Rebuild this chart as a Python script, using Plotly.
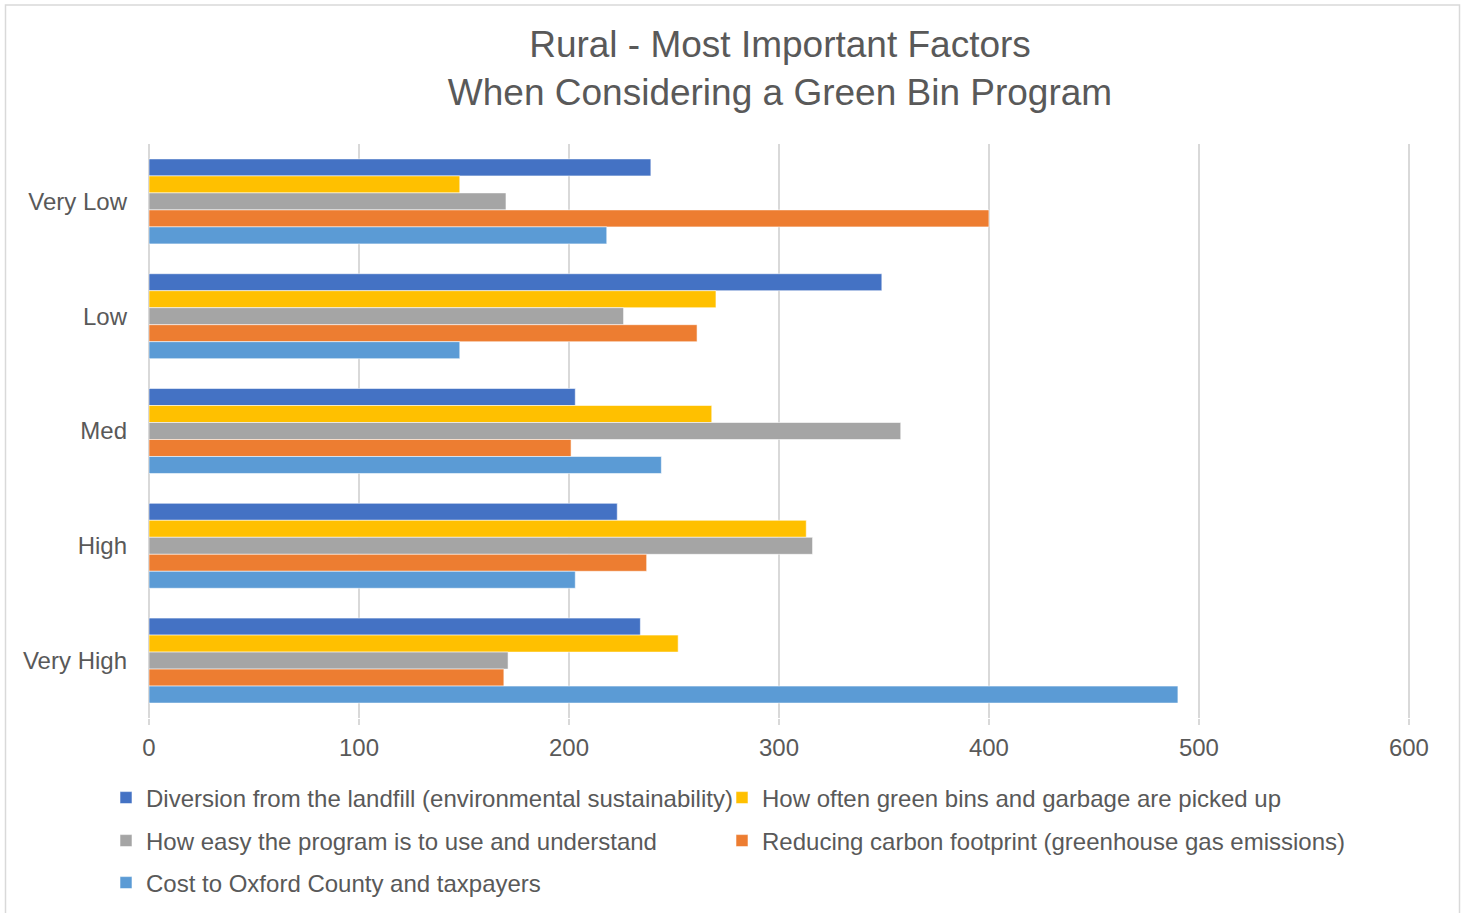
import plotly.graph_objects as go

categories = ["Very Low", "Low", "Med", "High", "Very High"]

series_names = [
    "Diversion from the landfill (environmental sustainability)",
    "How often green bins and garbage are picked up",
    "How easy the program is to use and understand",
    "Reducing carbon footprint (greenhouse gas emissions)",
    "Cost to Oxford County and taxpayers",
]

diversion = [239, 349, 203, 223, 234]
how_often = [148, 270, 268, 313, 252]
how_easy = [170, 226, 358, 316, 171]
carbon = [400, 261, 201, 237, 169]
cost = [218, 148, 244, 203, 490]

x_ticks = [0, 100, 200, 300, 400, 500, 600]

values = [diversion, how_often, how_easy, carbon, cost]
colors = ["#4472C4", "#FFC000", "#A5A5A5", "#ED7D31", "#5B9BD5"]
legends = ["legend", "legend", "legend2", "legend2", "legend3"]
leg_widths = [571, 620, 571, 620, 571]

FONT = "Liberation Sans, Arial, sans-serif"
TXT = "#595959"

fig = go.Figure()
for name, vals, col, lg, lw in zip(series_names, values, colors, legends, leg_widths):
    fig.add_trace(go.Bar(
        y=categories, x=vals, name=name, orientation="h",
        marker=dict(color=col, line=dict(color="rgba(255,255,255,0.55)", width=1)),
        legend=lg, legendwidth=lw,
    ))

W, H = 1467, 913
L, R, T, B = 149, 56, 144, 195
ph = H - T - B

def py(p):
    return (H - B - p) / ph

def px(p):
    return (p - L) / (W - L - R)

leg_common = dict(
    orientation="h", xanchor="left", yanchor="middle",
    font=dict(family=FONT, size=24, color=TXT),
    bgcolor="rgba(0,0,0,0)", borderwidth=0,
)

fig.update_layout(
    width=W, height=H,
    margin=dict(l=L, r=R, t=T, b=B, autoexpand=False),
    paper_bgcolor="white", plot_bgcolor="white",
    barmode="group", bargap=0.26, bargroupgap=0,
    font=dict(family=FONT, color=TXT),
    title=dict(
        text="Rural - Most Important Factors<br>When Considering a Green Bin Program",
        x=0.5, xanchor="center", xref="paper",
        y=1 - 57 / H, yanchor="middle",
        font=dict(family=FONT, size=37, color=TXT),
    ),
    xaxis=dict(
        range=[0, 601], tickvals=x_ticks, ticktext=[str(v) for v in x_ticks],
        showgrid=True, gridcolor="#D9D9D9", gridwidth=1.5,
        zeroline=True, zerolinecolor="#D9D9D9", zerolinewidth=1.5,
        ticks="outside", ticklen=6, tickcolor="#D9D9D9", tickwidth=1.5,
        ticklabelstandoff=2,
        tickfont=dict(family=FONT, size=24, color=TXT),
        showline=False,
    ),
    yaxis=dict(
        autorange="reversed", showgrid=False, zeroline=False, showline=False,
        ticks="", ticklabelstandoff=21,
        tickfont=dict(family=FONT, size=24, color=TXT),
    ),
    legend=dict(x=px(106), y=py(798), **leg_common),
    legend2=dict(x=px(106), y=py(841), **leg_common),
    legend3=dict(x=px(106), y=py(883), **leg_common),
    showlegend=True,
    shapes=[dict(
        type="rect", xref="paper", yref="paper",
        x0=px(5.5), x1=px(1459.5), y0=py(940), y1=py(5),
        line=dict(color="#D9D9D9", width=1.5), fillcolor="rgba(0,0,0,0)",
        layer="below",
    )],
)

fig.write_html(
    "out.html",
    config={"displayModeBar": False},
    post_script="document.body.style.margin='0';document.body.style.overflow='hidden';",
)
